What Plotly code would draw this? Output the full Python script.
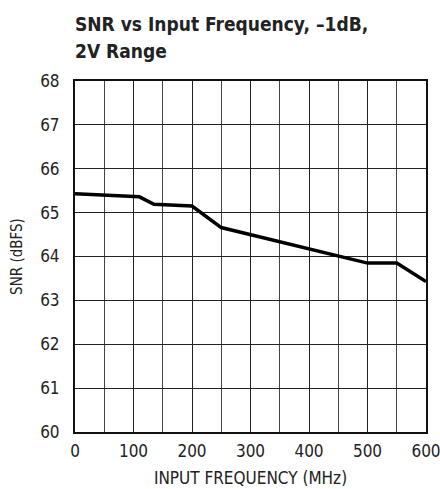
import plotly.graph_objects as go

freq_mhz = [0, 100, 110, 135, 200, 250, 500, 550, 600]
snr_dbfs = [65.43, 65.38, 65.36, 65.19, 65.15, 64.66, 63.85, 63.85, 63.43]
x_ticks = [0, 100, 200, 300, 400, 500, 600]
y_ticks = [60, 61, 62, 63, 64, 65, 66, 67, 68]

FONT = "DejaVu Sans Condensed, Liberation Sans, sans-serif"

fig = go.Figure()
fig.add_trace(go.Scatter(x=freq_mhz, y=snr_dbfs, mode="lines",
                         line=dict(color="black", width=3.5), showlegend=False))

fig.update_layout(
    width=440, height=489,
    margin=dict(l=75, r=14, t=81, b=57, autoexpand=False),
    paper_bgcolor="white", plot_bgcolor="white",
    font=dict(family=FONT, color="#222", size=17),
)
fig.add_annotation(text="<b>SNR vs Input Frequency, –1dB,</b>", xref="paper", yref="paper",
                   x=-0.005, y=(432 - 24) / 351, xanchor="left", yanchor="middle",
                   showarrow=False, font=dict(family=FONT, size=19, color="#222"))
fig.add_annotation(text="<b>2V Range</b>", xref="paper", yref="paper",
                   x=-0.005, y=(432 - 51) / 351, xanchor="left", yanchor="middle",
                   showarrow=False, font=dict(family=FONT, size=19, color="#222"))
fig.update_xaxes(range=[0, 600], tickvals=x_ticks, automargin=False,
                 ticklabeloverflow="allow",
                 showgrid=True, gridcolor="#222", gridwidth=1,
                 minor=dict(dtick=50, showgrid=True, gridcolor="#444", gridwidth=1),
                 showline=True, linecolor="#111", linewidth=2, mirror=True,
                 ticks="", ticklabelstandoff=3, zeroline=False,
                 title=dict(text="INPUT FREQUENCY (MHz)", font=dict(size=17), standoff=12))
fig.update_yaxes(range=[60, 68], tickvals=y_ticks, automargin=False,
                 ticklabeloverflow="allow",
                 showgrid=True, gridcolor="#222", gridwidth=1,
                 showline=True, linecolor="#111", linewidth=2, mirror=True,
                 ticks="", ticklabelstandoff=10, zeroline=False,
                 title=dict(text="SNR (dBFS)", font=dict(size=15), standoff=14))

fig.write_html("out.html", config={"displayModeBar": False},
               post_script="document.body.style.margin='0';document.body.style.overflow='hidden';")
